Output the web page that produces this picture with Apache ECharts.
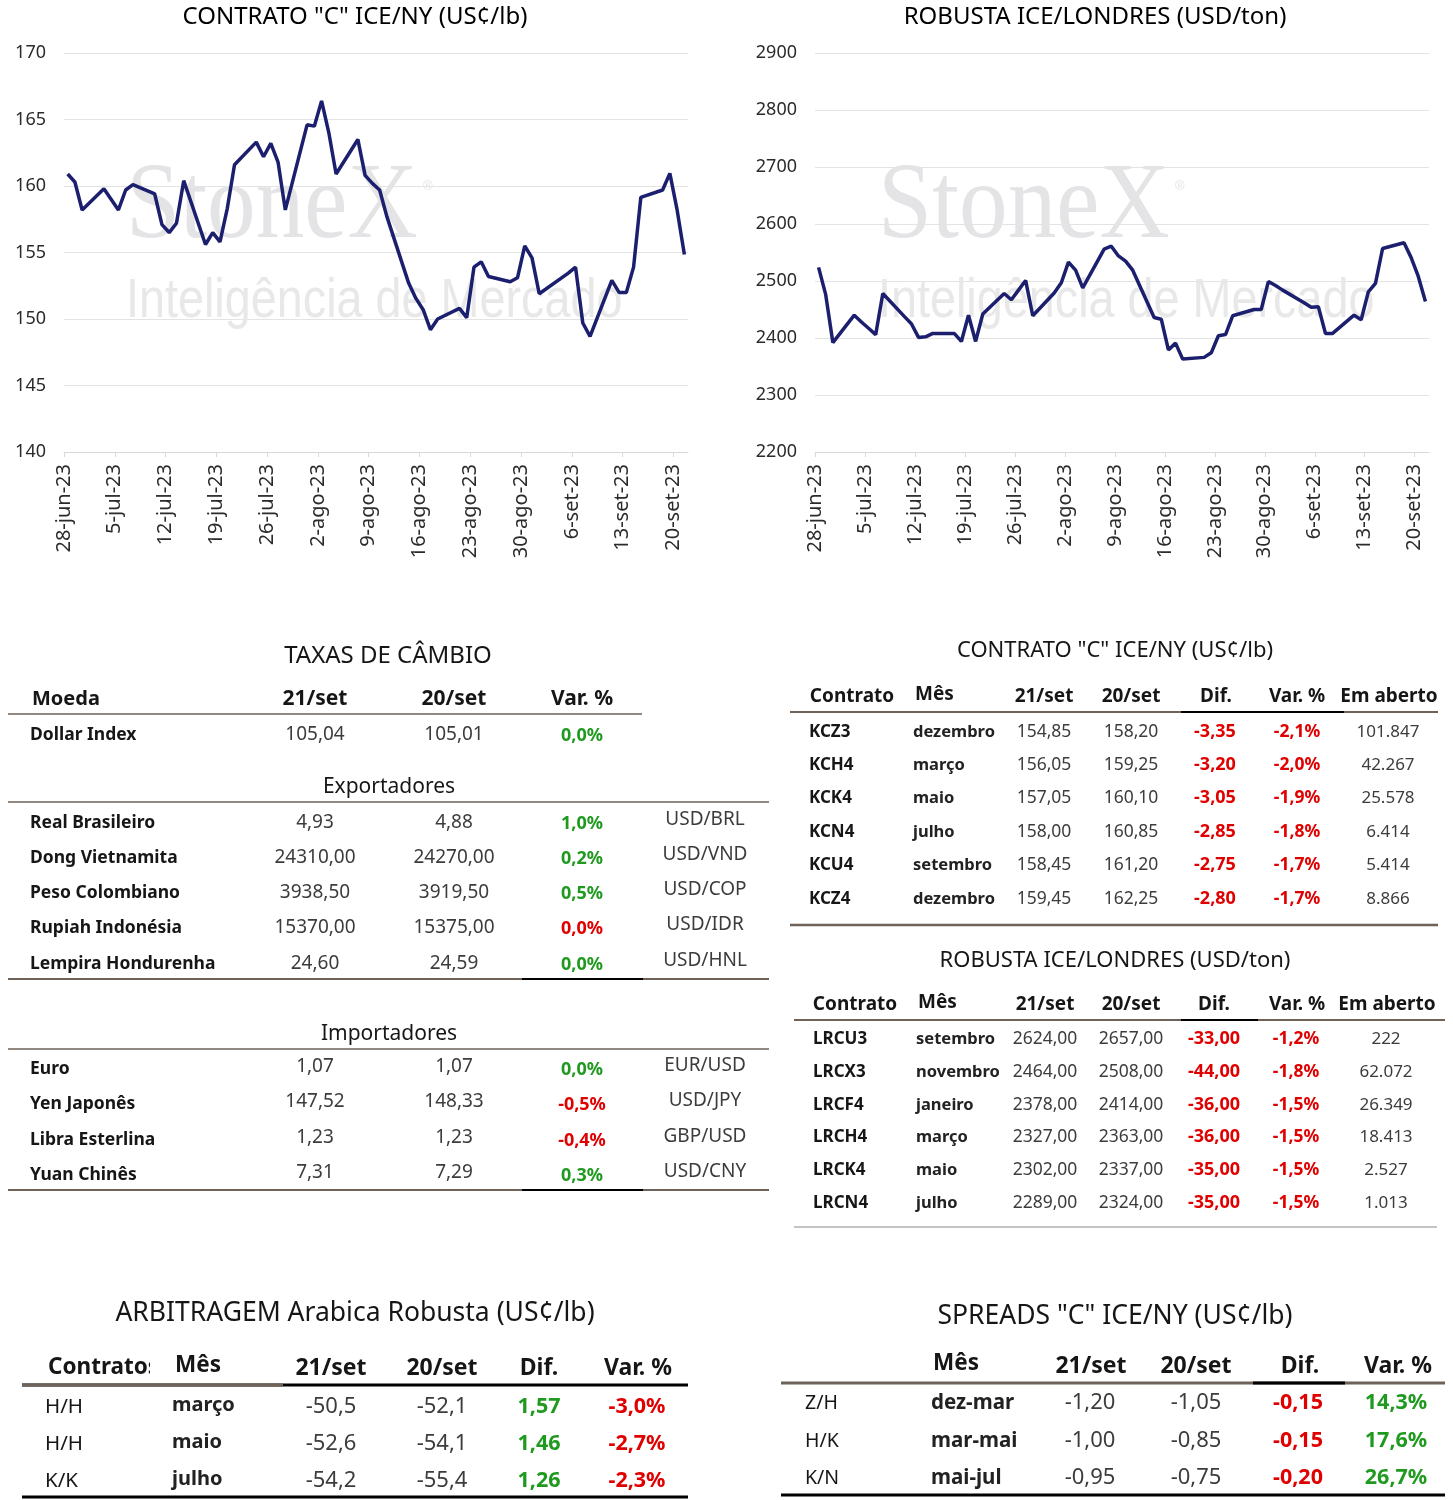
<!DOCTYPE html>
<html>
<head>
<meta charset="utf-8">
<script src="https://cdn.jsdelivr.net/npm/echarts@6/dist/echarts.min.js"></script>
<style>
html,body{margin:0;padding:0;background:#fff;}
#chart{width:1453px;height:1500px;}
</style>
</head>
<body>
<div id="chart"></div>
<script>
// ---------- line chart data ----------
const arabicaDates = ['2023-06-28','2023-06-29','2023-06-30','2023-07-03','2023-07-05','2023-07-06','2023-07-07',
 '2023-07-10','2023-07-11','2023-07-12','2023-07-13','2023-07-14','2023-07-17','2023-07-18','2023-07-19','2023-07-20','2023-07-21',
 '2023-07-24','2023-07-25','2023-07-26','2023-07-27','2023-07-28','2023-07-31','2023-08-01','2023-08-02','2023-08-03','2023-08-04',
 '2023-08-07','2023-08-08','2023-08-09','2023-08-10','2023-08-11','2023-08-14','2023-08-15','2023-08-16','2023-08-17','2023-08-18',
 '2023-08-21','2023-08-22','2023-08-23','2023-08-24','2023-08-25','2023-08-28','2023-08-29','2023-08-30','2023-08-31','2023-09-01',
 '2023-09-05','2023-09-06','2023-09-07','2023-09-08','2023-09-11','2023-09-12','2023-09-13','2023-09-14','2023-09-15',
 '2023-09-18','2023-09-19','2023-09-20','2023-09-21'];
const arabicaValues = [160.9,160.3,158.2,159.8,158.2,159.7,160.1,
 159.4,157.1,156.5,157.2,160.4,155.6,156.5,155.8,158.3,161.6,
 163.3,162.2,163.2,161.8,158.2,164.6,164.5,166.4,164.0,160.9,
 163.5,160.8,160.2,159.7,157.7,152.7,151.55,150.7,149.2,150.0,
 150.8,150.1,153.9,154.3,153.2,152.8,153.1,155.5,154.6,151.9,
 153.45,153.9,149.7,148.7,152.9,152.0,152.0,153.9,159.15,
 159.7,160.95,158.20,154.85];

const robustaDates = ['2023-06-28','2023-06-29','2023-06-30','2023-07-03','2023-07-04','2023-07-05','2023-07-06','2023-07-07',
 '2023-07-10','2023-07-11','2023-07-12','2023-07-13','2023-07-14','2023-07-17','2023-07-18','2023-07-19','2023-07-20','2023-07-21',
 '2023-07-24','2023-07-25','2023-07-26','2023-07-27','2023-07-28','2023-07-31','2023-08-01','2023-08-02','2023-08-03','2023-08-04',
 '2023-08-07','2023-08-08','2023-08-09','2023-08-10','2023-08-11','2023-08-14','2023-08-15','2023-08-16','2023-08-17','2023-08-18',
 '2023-08-21','2023-08-22','2023-08-23','2023-08-24','2023-08-25','2023-08-28','2023-08-29','2023-08-30','2023-08-31','2023-09-01',
 '2023-09-04','2023-09-05','2023-09-06','2023-09-07','2023-09-08','2023-09-11','2023-09-12','2023-09-13','2023-09-14','2023-09-15',
 '2023-09-18','2023-09-19','2023-09-20','2023-09-21'];
const robustaValues = [2524,2476,2392,2440,2428,2417,2406,2478,
 2438,2425,2401,2402,2408,2408,2394,2440,2394,2442,
 2478,2467,2484,2501,2439,2479,2497,2533,2519,2488,
 2556,2561,2544,2535,2519,2436,2433,2379,2391,2363,
 2366,2374,2404,2406,2439,2450,2450,2499,2492,2484,
 2462,2454,2455,2408,2408,2440,2432,2481,2496,2557,
 2567,2541,2508,2464];

const xTickLabels = ['28-jun-23','5-jul-23','12-jul-23','19-jul-23','26-jul-23','2-ago-23','9-ago-23',
 '16-ago-23','23-ago-23','30-ago-23','6-set-23','13-set-23','20-set-23'];

// ---------- table data ----------
const fxHeader = ['Moeda','21/set','20/set','Var. %'];
const dollarRow = ['Dollar Index','105,04','105,01','0,0%'];
const exporterNames = ['Real Brasileiro','Dong Vietnamita','Peso Colombiano','Rupiah Indonésia','Lempira Hondurenha'];
const exporter21 = ['4,93','24310,00','3938,50','15370,00','24,60'];
const exporter20 = ['4,88','24270,00','3919,50','15375,00','24,59'];
const exporterVar = ['1,0%','0,2%','0,5%','0,0%','0,0%'];
const exporterPairs = ['USD/BRL','USD/VND','USD/COP','USD/IDR','USD/HNL'];
const importerNames = ['Euro','Yen Japonês','Libra Esterlina','Yuan Chinês'];
const importer21 = ['1,07','147,52','1,23','7,31'];
const importer20 = ['1,07','148,33','1,23','7,29'];
const importerVar = ['0,0%','-0,5%','-0,4%','0,3%'];
const importerPairs = ['EUR/USD','USD/JPY','GBP/USD','USD/CNY'];

const futHeader = ['Contrato','Mês','21/set','20/set','Dif.','Var. %','Em aberto'];
const kcCodes = ['KCZ3','KCH4','KCK4','KCN4','KCU4','KCZ4'];
const kcMonths = ['dezembro','março','maio','julho','setembro','dezembro'];
const kc21 = ['154,85','156,05','157,05','158,00','158,45','159,45'];
const kc20 = ['158,20','159,25','160,10','160,85','161,20','162,25'];
const kcDif = ['-3,35','-3,20','-3,05','-2,85','-2,75','-2,80'];
const kcVar = ['-2,1%','-2,0%','-1,9%','-1,8%','-1,7%','-1,7%'];
const kcOpen = ['101.847','42.267','25.578','6.414','5.414','8.866'];

const lrCodes = ['LRCU3','LRCX3','LRCF4','LRCH4','LRCK4','LRCN4'];
const lrMonths = ['setembro','novembro','janeiro','março','maio','julho'];
const lr21 = ['2624,00','2464,00','2378,00','2327,00','2302,00','2289,00'];
const lr20 = ['2657,00','2508,00','2414,00','2363,00','2337,00','2324,00'];
const lrDif = ['-33,00','-44,00','-36,00','-36,00','-35,00','-35,00'];
const lrVar = ['-1,2%','-1,8%','-1,5%','-1,5%','-1,5%','-1,5%'];
const lrOpen = ['222','62.072','26.349','18.413','2.527','1.013'];

const arbHeader = ['Contratos','Mês','21/set','20/set','Dif.','Var. %'];
const arbCodes = ['H/H','H/H','K/K'];
const arbMonths = ['março','maio','julho'];
const arb21 = ['-50,5','-52,6','-54,2'];
const arb20 = ['-52,1','-54,1','-55,4'];
const arbDif = ['1,57','1,46','1,26'];
const arbVar = ['-3,0%','-2,7%','-2,3%'];

const sprHeader = ['Mês','21/set','20/set','Dif.','Var. %'];
const sprCodes = ['Z/H','H/K','K/N'];
const sprMonths = ['dez-mar','mar-mai','mai-jul'];
const spr21 = ['-1,20','-1,00','-0,95'];
const spr20 = ['-1,05','-0,85','-0,75'];
const sprDif = ['-0,15','-0,15','-0,20'];
const sprVar = ['14,3%','17,6%','26,7%'];

// ---------- helpers ----------
const FONT = 'Noto Sans';
const DARK = '#161616';
const NUM = '#3c3c3c';
const GREEN = '#1f9a1f';
const RED = '#e00000';
const BROWN = '#6e6259';
const BASE = Date.UTC(2023,5,28);
function dayIdx(s){const p=s.split('-').map(Number);return Math.round((Date.UTC(p[0],p[1]-1,p[2])-BASE)/86400000);}
function toNum(s){return parseFloat(s.replace(/\./g,'').replace(',','.'));}
function signColor(s){return s.trim().charAt(0)==='-'?RED:GREEN;}
function fxColor(v,a,b){ if(v.charAt(0)==='-') return RED; return toNum(a)<toNum(b)?RED:GREEN; }

const G = [];
function T(x,y,text,o){o=o||{};G.push({type:'text',x:x,y:y,z:10,silent:true,
  style:{text:text,fill:o.c||DARK,fontSize:o.s||17,fontWeight:o.w||'normal',fontFamily:o.f||FONT,
  align:o.a||'left',verticalAlign:'middle'}});}
function L(x1,x2,y,o){o=o||{};G.push({type:'line',z:12,silent:true,shape:{x1:x1,y1:y,x2:x2,y2:y},
  style:{stroke:o.c||BROWN,lineWidth:o.w||1.5}});}
function R(x,y,w,h){G.push({type:'rect',z:11,silent:true,shape:{x:x,y:y,width:w,height:h},style:{fill:'#ffffff'}});}

// ---------- watermarks ----------
function watermark(x){
  G.push({type:'text',x:x,y:209,z:1,scaleX:0.9,silent:true,style:{text:'StoneX',fontFamily:'Liberation Serif',fontSize:108,fill:'#e4e4e6',align:'left',verticalAlign:'middle'}});
  G.push({type:'text',x:x+297,y:186,z:1,silent:true,style:{text:'®',fontFamily:'Liberation Sans',fontSize:13,fill:'#e4e4e6',align:'left',verticalAlign:'middle'}});
  G.push({type:'text',x:x,y:302,z:1,scaleX:0.85,silent:true,style:{text:'Inteligência de Mercado',fontFamily:'Liberation Sans',fontSize:55,fill:'#e8e8e8',align:'left',verticalAlign:'middle'}});
}
watermark(126);
watermark(878);

// ---------- chart titles ----------
T(355,17,'CONTRATO "C" ICE/NY (US¢/lb)',{a:'center',s:24,c:'#000'});
T(1095,17,'ROBUSTA ICE/LONDRES (USD/ton)',{a:'center',s:24,c:'#000'});

// ---------- TAXAS DE CÂMBIO ----------
T(388,656,'TAXAS DE CÂMBIO',{a:'center',s:24});
T(32,699,fxHeader[0],{s:20,w:'bold'});
T(315,699,fxHeader[1],{a:'center',s:21,w:'bold'});
T(454,699,fxHeader[2],{a:'center',s:21,w:'bold'});
T(582,699,fxHeader[3],{a:'center',s:21,w:'bold'});
L(8,642,714);
T(30,735,dollarRow[0],{s:17.5,w:'bold'});
T(315,735,dollarRow[1],{a:'center',s:19,c:NUM});
T(454,735,dollarRow[2],{a:'center',s:19,c:NUM});
T(582,736,dollarRow[3],{a:'center',s:18,w:'bold',c:fxColor(dollarRow[3],dollarRow[1],dollarRow[2])});
T(389,787,'Exportadores',{a:'center',s:21});
L(8,769,802);
const expY = [823,858,893,928,964];
exporterNames.forEach((n,i)=>{
  const y=expY[i];
  T(30,y,n,{s:17.5,w:'bold'});
  T(315,y,exporter21[i],{a:'center',s:19,c:NUM});
  T(454,y,exporter20[i],{a:'center',s:19,c:NUM});
  T(582,y+1,exporterVar[i],{a:'center',s:18,w:'bold',c:fxColor(exporterVar[i],exporter21[i],exporter20[i])});
  T(705,y-3,exporterPairs[i],{a:'center',s:19,c:NUM});
});
L(8,769,979,{w:2});
L(522,643,979,{c:'#000',w:2});
T(389,1034,'Importadores',{a:'center',s:21});
L(8,769,1049);
const impY = [1069,1104,1140,1175];
importerNames.forEach((n,i)=>{
  const y=impY[i];
  T(30,y,n,{s:17.5,w:'bold'});
  T(315,y-2,importer21[i],{a:'center',s:19,c:NUM});
  T(454,y-2,importer20[i],{a:'center',s:19,c:NUM});
  T(582,y+1,importerVar[i],{a:'center',s:18,w:'bold',c:fxColor(importerVar[i],importer21[i],importer20[i])});
  T(705,y-3,importerPairs[i],{a:'center',s:19,c:NUM});
});
L(8,769,1190,{w:2});
L(522,643,1190,{c:'#000',w:2});

// ---------- futures tables ----------
function futTable(title,titleY,headY,hx,rowsY,codes,months,v21,v20,dif,vr,open,cx,lineL,lineR,segL,segR,bottomY,bottomStyle){
  T(1115,titleY,title,{a:'center',s:22});
  T(hx[0],headY,futHeader[0],{a:'center',s:19,w:'bold'});
  T(hx[1],headY-2,futHeader[1],{s:19,w:'bold'});
  for(let k=2;k<7;k++) T(hx[k],headY,futHeader[k],{a:'center',s:19,w:'bold'});
  L(lineL,lineR,headY+15,{w:2});
  L(segL,segR,headY+15,{c:'#000',w:2});
  codes.forEach((c,i)=>{
    const y=rowsY[i];
    T(cx[0],y,c,{s:17,w:'bold'});
    T(cx[1],y,months[i],{s:16.5,w:'bold',c:'#222'});
    T(cx[2],y,v21[i],{a:'center',s:17.5,c:NUM});
    T(cx[3],y,v20[i],{a:'center',s:17.5,c:NUM});
    T(cx[4],y,dif[i],{a:'center',s:18,w:'bold',c:signColor(dif[i])});
    T(cx[5],y,vr[i],{a:'center',s:17.5,w:'bold',c:signColor(vr[i])});
    T(cx[6],y,open[i],{a:'center',s:17,c:NUM});
  });
  L(lineL,lineR-(bottomStyle.short||0),bottomY,{w:bottomStyle.w,c:bottomStyle.c});
}
futTable('CONTRATO "C" ICE/NY (US¢/lb)',651,697,[852,915,1044,1131,1216,1297,1389],
  [732,765,798,832,865,899],kcCodes,kcMonths,kc21,kc20,kcDif,kcVar,kcOpen,
  [809,913,1044,1131,1215,1297,1388],790,1438,1181,1344,925,{w:2.5,c:BROWN});
futTable('ROBUSTA ICE/LONDRES (USD/ton)',961,1005,[855,918,1045,1131,1214,1297,1387],
  [1039,1072,1105,1137,1170,1203],lrCodes,lrMonths,lr21,lr20,lrDif,lrVar,lrOpen,
  [813,916,1045,1131,1214,1296,1386],794,1445,1181,1258,1227,{w:1.2,c:'#8a8a8a',short:8});

// ---------- ARBITRAGEM ----------
T(355,1313,'ARBITRAGEM Arabica Robusta (US¢/lb)',{a:'center',s:26.5});
T(48,1368,arbHeader[0],{s:22.5,w:'bold'});
R(150,1350,23,30);
T(175,1366,arbHeader[1],{s:22.5,w:'bold'});
T(331,1368,arbHeader[2],{a:'center',s:23,w:'bold'});
T(442,1368,arbHeader[3],{a:'center',s:23,w:'bold'});
T(539,1368,arbHeader[4],{a:'center',s:23,w:'bold'});
T(638,1368,arbHeader[5],{a:'center',s:23,w:'bold'});
L(22,688,1385,{c:'#000',w:3});
L(22,283,1385,{c:BROWN,w:3});
const arbY=[1407,1444,1481];
arbCodes.forEach((c,i)=>{
  const y=arbY[i];
  T(45,y,c,{s:20.5});
  T(172,y-2,arbMonths[i],{s:20,w:'bold',c:'#222'});
  T(331,y,arb21[i],{a:'center',s:22,c:NUM});
  T(442,y,arb20[i],{a:'center',s:22,c:NUM});
  T(539,y,arbDif[i],{a:'center',s:21.5,w:'bold',c:signColor(arbDif[i])});
  T(637,y,arbVar[i],{a:'center',s:21.5,w:'bold',c:signColor(arbVar[i])});
});
L(22,688,1497,{c:'#000',w:3});

// ---------- SPREADS ----------
T(1115,1316,'SPREADS "C" ICE/NY (US¢/lb)',{a:'center',s:26.5});
T(933,1364,sprHeader[0],{s:22.5,w:'bold'});
T(1091,1366,sprHeader[1],{a:'center',s:23,w:'bold'});
T(1196,1366,sprHeader[2],{a:'center',s:23,w:'bold'});
T(1300,1366,sprHeader[3],{a:'center',s:23,w:'bold'});
T(1398,1366,sprHeader[4],{a:'center',s:23,w:'bold'});
L(781,1445,1383,{c:BROWN,w:3});
L(1253,1345,1383,{c:'#000',w:3});
const sprY=[1403,1441,1478];
sprCodes.forEach((c,i)=>{
  const y=sprY[i];
  T(805,y,c,{s:19.5});
  T(931,y,sprMonths[i],{s:20.5,w:'bold',c:'#222'});
  T(1090,y,spr21[i],{a:'center',s:22,c:NUM});
  T(1196,y,spr20[i],{a:'center',s:22,c:NUM});
  T(1298,y,sprDif[i],{a:'center',s:21.5,w:'bold',c:signColor(sprDif[i])});
  T(1396,y,sprVar[i],{a:'center',s:21.5,w:'bold',c:signColor(sprVar[i])});
});
L(781,1445,1495,{c:'#000',w:3});

// ---------- axes ----------
function xLabel(v){const i=Math.round((v+0.5)/7);return Math.abs(v+0.5-i*7)<1e-6&&i<xTickLabels.length?xTickLabels[i]:'';}
function xAxisCfg(gi){return {gridIndex:gi,type:'value',min:-0.5,max:85.5,interval:7,
  splitLine:{show:false},
  axisLine:{show:true,onZero:false,lineStyle:{color:'#d9d9d9',width:1}},
  axisTick:{show:true,length:5,lineStyle:{color:'#d9d9d9'}},
  axisLabel:{rotate:90,formatter:xLabel,fontSize:20,color:'#2b2b2b',fontFamily:FONT,margin:12,padding:[0,0,8,0],showMaxLabel:false}};}
function yAxisCfg(gi,min,max,step){return {gridIndex:gi,type:'value',min:min,max:max,interval:step,
  axisLine:{show:false},axisTick:{show:false},
  splitLine:{lineStyle:{color:'#e3e3e3',width:1}},
  axisLabel:{fontSize:18,color:'#2b2b2b',fontFamily:FONT,margin:18,formatter:function(v){return String(v);}}};}

const option = {
  animation:false,
  backgroundColor:'#ffffff',
  grid:[{left:64,top:53,width:624,height:399},{left:815,top:53,width:614,height:399}],
  xAxis:[xAxisCfg(0),xAxisCfg(1)],
  yAxis:[yAxisCfg(0,140,170,5),yAxisCfg(1,2200,2900,100)],
  series:[
    {type:'line',xAxisIndex:0,yAxisIndex:0,symbol:'none',z:5,
     lineStyle:{color:'#1b1f6e',width:3.5},
     data:arabicaDates.map((d,i)=>[dayIdx(d),arabicaValues[i]])},
    {type:'line',xAxisIndex:1,yAxisIndex:1,symbol:'none',z:5,
     lineStyle:{color:'#1b1f6e',width:3.5},
     data:robustaDates.map((d,i)=>[dayIdx(d),robustaValues[i]])}
  ],
  graphic:G
};
const chart = echarts.init(document.getElementById('chart'),null,{renderer:'canvas'});
chart.setOption(option);
</script>
</body>
</html>
